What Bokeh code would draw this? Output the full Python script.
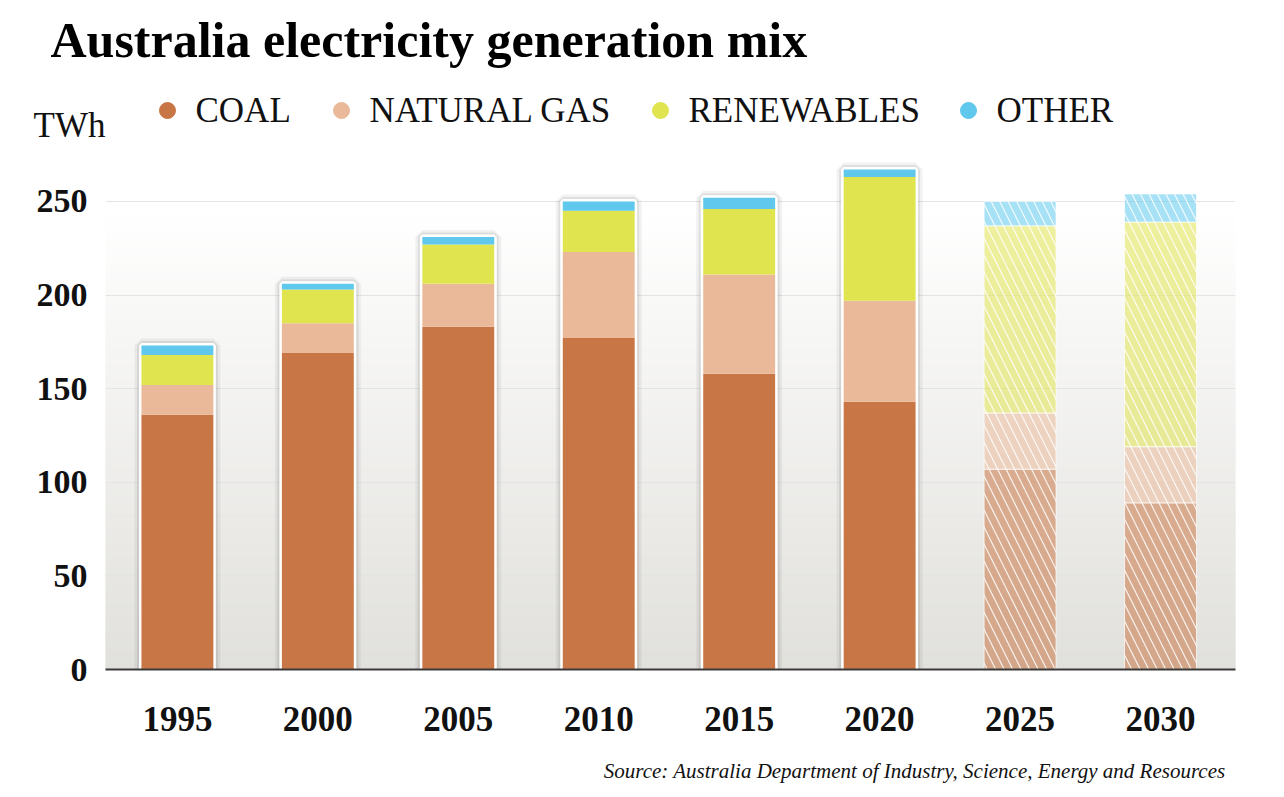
import numpy as np
from bokeh.plotting import figure
from bokeh.layouts import column
from bokeh.models import ColumnDataSource, Range1d, FixedTicker
from bokeh.core.properties import value
from bokeh.embed import file_html
from bokeh.resources import INLINE

# ---------------- data ----------------
years = [1995, 2000, 2005, 2010, 2015, 2020, 2025, 2030]
coal = [136, 169, 183, 177, 158, 143, 107, 89]
gas = [16, 16, 23, 46, 53, 54, 30, 30]
renewables = [16, 18, 21, 22, 35, 66, 100, 120]
other = [5, 3, 4, 5, 6, 4, 13, 15]
projected = [False, False, False, False, False, False, True, True]

series = ["coal", "gas", "renewables", "other"]
labels = ["COAL", "NATURAL GAS", "RENEWABLES", "OTHER"]
colors = ["#c87645", "#e9b999", "#e0e44e", "#5fc8ec"]
y_ticks = [0, 50, 100, 150, 200, 250]

title_text = "Australia electricity generation mix"
unit_text = "TWh"
source_text = "Source: Australia Department of Industry, Science, Energy and Resources"

# ---------------- sources ----------------
def subset(flag):
    idx = [i for i, p in enumerate(projected) if p == flag]
    d = dict(
        year=[years[i] for i in idx],
        coal=[coal[i] for i in idx],
        gas=[gas[i] for i in idx],
        renewables=[renewables[i] for i in idx],
        other=[other[i] for i in idx],
    )
    d["total"] = [a + b + c + e for a, b, c, e in
                  zip(d["coal"], d["gas"], d["renewables"], d["other"])]
    return ColumnDataSource(d)

hist = subset(False)
proj = subset(True)

SERIF = "Liberation Serif"
W = 1268
HEAD_H = 150
MAIN_H = 595
FOOT_H = 50
X0, X1 = 1992.44, 2032.67
Y1 = 277.2
BAR_W = 2.56


def blank(height):
    f = figure(width=W, height=height, output_backend="svg", toolbar_location=None,
               x_range=Range1d(0, W), y_range=Range1d(height, 0),
               x_axis_location=None, y_axis_location=None, title=None,
               min_border_left=0, min_border_right=0, min_border_top=0,
               min_border_bottom=0)
    f.frame_align = False
    f.grid.visible = False
    f.outline_line_color = None
    f.background_fill_color = "white"
    f.border_fill_color = "white"
    return f

# ---------------- header: title, unit, legend ----------------
head = blank(HEAD_H)
head.text(x=[50], y=[39], text=[title_text], text_font=value(SERIF),
          text_font_size=value("50px"), text_font_style="bold",
          text_color="#000000", text_baseline="middle")
head.text(x=[33], y=[125], text=[unit_text], text_font=value(SERIF),
          text_font_size=value("35px"), text_color="#111111",
          text_baseline="middle")
legend_dot_x = [167, 341, 660, 968]
head.scatter(x=legend_dot_x, y=[110] * 4, size=16, marker="circle",
             fill_color=colors, line_color=colors)
head.text(x=[v + 28 for v in legend_dot_x], y=[110] * 4, text=labels,
          text_font=value(SERIF), text_font_size=value("35px"),
          text_color="#111111", text_baseline="middle")

# ---------------- main chart ----------------
p = figure(width=W, height=MAIN_H, output_backend="svg", toolbar_location=None,
           x_range=Range1d(X0, X1), y_range=Range1d(0, Y1), title=None,
           min_border_left=105, min_border_right=W - 1235, min_border_top=0,
           min_border_bottom=MAIN_H - (669 - HEAD_H))
p.frame_align = False
p.outline_line_color = None
p.background_fill_color = "white"
p.border_fill_color = "white"

# background gradient (style only)
edges = np.linspace(0, Y1, 140)
bot = np.array([0xe1, 0xe0, 0xdc])
cols = []
for lo in edges[:-1]:
    t = min(1.0, lo / 245.0)
    c = bot + (255 - bot) * t
    cols.append("#%02x%02x%02x" % tuple(int(round(v)) for v in c))
grad = ColumnDataSource(dict(bottom=edges[:-1], top=edges[1:], c=cols))
p.quad(left=X0, right=X1, bottom="bottom", top="top", fill_color="c",
       line_color="c", line_width=1, source=grad, level="image")

# grid and axes
p.xgrid.visible = False
p.ygrid.grid_line_color = "#e4e4e2"
p.ygrid.grid_line_width = 1
p.ygrid.ticker = FixedTicker(ticks=y_ticks)

p.yaxis.ticker = FixedTicker(ticks=y_ticks)
p.yaxis.axis_line_color = None
p.yaxis.major_tick_line_color = None
p.yaxis.minor_tick_line_color = None
p.yaxis.major_label_standoff = 12
p.yaxis.major_label_text_font = SERIF
p.yaxis.major_label_text_font_style = "bold"
p.yaxis.major_label_text_font_size = "34px"
p.yaxis.major_label_text_color = "#111111"

p.xaxis.ticker = FixedTicker(ticks=years)
p.xaxis.axis_line_color = "#3a3a3a"
p.xaxis.axis_line_width = 2
p.xaxis.major_tick_line_color = None
p.xaxis.minor_tick_line_color = None
p.xaxis.major_label_standoff = 31
p.xaxis.major_label_text_font = SERIF
p.xaxis.major_label_text_font_style = "bold"
p.xaxis.major_label_text_font_size = "35px"
p.xaxis.major_label_text_color = "#111111"

# historical bars: soft shadow + white frame
p.vbar(x="year", top="total", width=BAR_W, source=hist, fill_alpha=0,
       line_color="black", line_alpha=0.05, line_width=14)
p.vbar(x="year", top="total", width=BAR_W, source=hist, fill_alpha=0,
       line_color="black", line_alpha=0.08, line_width=9)
p.vbar(x="year", top="total", width=BAR_W, source=hist, fill_color="white",
       line_color="white", line_width=5)
p.vbar_stack(series, x="year", width=BAR_W, source=hist, fill_color=colors,
             line_color=None)

# projected bars: faded + hatched
p.vbar_stack(series, x="year", width=BAR_W, source=proj, fill_color=colors,
             fill_alpha=0.55, line_color="white", line_alpha=0.7, line_width=1,
             hatch_pattern="left_diagonal_line", hatch_color="white",
             hatch_alpha=0.85, hatch_weight=1.2, hatch_scale=17)

# ---------------- footer: source ----------------
foot = blank(FOOT_H)
foot.text(x=[1225], y=[770 - (HEAD_H + MAIN_H)], text=[source_text],
          text_font=value(SERIF), text_font_size=value("21px"),
          text_font_style="italic", text_color="#111111", text_align="right",
          text_baseline="middle")

layout = column(head, p, foot, spacing=0)
open("out.html", "w").write(file_html(layout, INLINE))
